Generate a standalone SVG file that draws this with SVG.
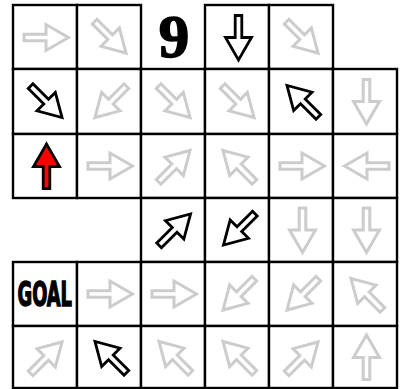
<svg xmlns="http://www.w3.org/2000/svg" xmlns:xlink="http://www.w3.org/1999/xlink" width="409" height="389" viewBox="0 0 409 389">
<style>
.cell{fill:#fff;stroke:#000;stroke-width:2.4}
.g{fill:#fff;stroke:#cccccc;stroke-width:3;stroke-linejoin:miter;stroke-miterlimit:10}
.k{fill:#fff;stroke:#000;stroke-width:2.8;stroke-linejoin:miter;stroke-miterlimit:10}
.r{fill:#ff0000;stroke:#000;stroke-width:2.8;stroke-linejoin:miter;stroke-miterlimit:10}
.nine{font-family:"Liberation Serif","Times New Roman",serif;font-weight:bold;font-size:61px;fill:#000;stroke:#000;stroke-width:1.6;text-anchor:middle}
.goal{font-family:"Liberation Sans Narrow","DejaVu Sans Condensed","Liberation Sans",sans-serif;font-weight:bold;font-size:34px;fill:#000;stroke:#000;stroke-width:1.4}
</style>
<defs>
<polygon id="arr" points="-22.5,-3.3 -0.5,-3.3 -0.5,-13 22,0 -0.5,13 -0.5,3.3 -22.5,3.3"/>
</defs>
<rect width="409" height="389" fill="#fff"/>
<!-- row 1 -->
<g id="r1c1"><rect class="cell" x="13" y="5" width="64" height="64"/><use xlink:href="#arr" class="g" transform="translate(46.5,37.5) rotate(0)"/></g>
<g id="r1c2"><rect class="cell" x="77" y="5" width="64" height="64"/><use xlink:href="#arr" class="g" transform="translate(110.5,37.5) rotate(45)"/></g>
<g id="r1c3"><text class="nine" x="174" y="56.5">9</text></g>
<g id="r1c4"><rect class="cell" x="205" y="5" width="64" height="64"/><use xlink:href="#arr" class="k" transform="translate(238.5,38) rotate(90)"/></g>
<g id="r1c5"><rect class="cell" x="269" y="5" width="64" height="64"/><use xlink:href="#arr" class="g" transform="translate(302.5,37.5) rotate(45)"/></g>
<!-- row 2 -->
<g id="r2c1"><rect class="cell" x="13" y="69" width="64" height="65"/><use xlink:href="#arr" class="k" transform="translate(46.5,102) rotate(45)"/></g>
<g id="r2c2"><rect class="cell" x="77" y="69" width="64" height="65"/><use xlink:href="#arr" class="g" transform="translate(110.5,102) rotate(135)"/></g>
<g id="r2c3"><rect class="cell" x="141" y="69" width="64" height="65"/><use xlink:href="#arr" class="g" transform="translate(174.5,102) rotate(45)"/></g>
<g id="r2c4"><rect class="cell" x="205" y="69" width="64" height="65"/><use xlink:href="#arr" class="g" transform="translate(238.5,102) rotate(45)"/></g>
<g id="r2c5"><rect class="cell" x="269" y="69" width="64" height="65"/><use xlink:href="#arr" class="k" transform="translate(302.5,101) rotate(-135)"/></g>
<g id="r2c6"><rect class="cell" x="333" y="69" width="64" height="65"/><use xlink:href="#arr" class="g" transform="translate(366.5,102) rotate(90)"/></g>
<!-- row 3 -->
<g id="r3c1"><rect class="cell" x="13" y="134" width="64" height="64"/><use xlink:href="#arr" class="r" transform="translate(46.5,166) rotate(-90)"/></g>
<g id="r3c2"><rect class="cell" x="77" y="134" width="64" height="64"/><use xlink:href="#arr" class="g" transform="translate(110.5,166) rotate(0)"/></g>
<g id="r3c3"><rect class="cell" x="141" y="134" width="64" height="64"/><use xlink:href="#arr" class="g" transform="translate(174.5,166) rotate(-45)"/></g>
<g id="r3c4"><rect class="cell" x="205" y="134" width="64" height="64"/><use xlink:href="#arr" class="g" transform="translate(238.5,166) rotate(-135)"/></g>
<g id="r3c5"><rect class="cell" x="269" y="134" width="64" height="64"/><use xlink:href="#arr" class="g" transform="translate(302.5,166) rotate(0)"/></g>
<g id="r3c6"><rect class="cell" x="333" y="134" width="64" height="64"/><use xlink:href="#arr" class="g" transform="translate(366.5,166) rotate(180)"/></g>
<!-- row 4 -->
<g id="r4c3"><rect class="cell" x="141" y="198" width="64" height="64"/><use xlink:href="#arr" class="k" transform="translate(175,229.5) rotate(-45)"/></g>
<g id="r4c4"><rect class="cell" x="205" y="198" width="64" height="64"/><use xlink:href="#arr" class="k" transform="translate(239,229.5) rotate(135)"/></g>
<g id="r4c5"><rect class="cell" x="269" y="198" width="64" height="64"/><use xlink:href="#arr" class="g" transform="translate(302.5,230.5) rotate(90)"/></g>
<g id="r4c6"><rect class="cell" x="333" y="198" width="64" height="64"/><use xlink:href="#arr" class="g" transform="translate(366.5,230.5) rotate(90)"/></g>
<!-- row 5 -->
<g id="r5c1"><rect class="cell" x="13" y="262" width="64" height="64"/><text class="goal" x="17.5" y="306" textLength="54.5" lengthAdjust="spacingAndGlyphs">GOAL</text></g>
<g id="r5c2"><rect class="cell" x="77" y="262" width="64" height="64"/><use xlink:href="#arr" class="g" transform="translate(110.5,294) rotate(0)"/></g>
<g id="r5c3"><rect class="cell" x="141" y="262" width="64" height="64"/><use xlink:href="#arr" class="g" transform="translate(174.5,294) rotate(0)"/></g>
<g id="r5c4"><rect class="cell" x="205" y="262" width="64" height="64"/><use xlink:href="#arr" class="g" transform="translate(238.5,294.5) rotate(135)"/></g>
<g id="r5c5"><rect class="cell" x="269" y="262" width="64" height="64"/><use xlink:href="#arr" class="g" transform="translate(302.5,294.5) rotate(135)"/></g>
<g id="r5c6"><rect class="cell" x="333" y="262" width="64" height="64"/><use xlink:href="#arr" class="g" transform="translate(366.5,294) rotate(-135)"/></g>
<!-- row 6 -->
<g id="r6c1"><rect class="cell" x="13" y="326" width="64" height="62"/><use xlink:href="#arr" class="g" transform="translate(46.5,357.5) rotate(-45)"/></g>
<g id="r6c2"><rect class="cell" x="77" y="326" width="64" height="62"/><use xlink:href="#arr" class="k" transform="translate(110.5,357) rotate(-135)"/></g>
<g id="r6c3"><rect class="cell" x="141" y="326" width="64" height="62"/><use xlink:href="#arr" class="g" transform="translate(174.5,357) rotate(-135)"/></g>
<g id="r6c4"><rect class="cell" x="205" y="326" width="64" height="62"/><use xlink:href="#arr" class="g" transform="translate(238.5,357) rotate(-135)"/></g>
<g id="r6c5"><rect class="cell" x="269" y="326" width="64" height="62"/><use xlink:href="#arr" class="g" transform="translate(302.5,357.5) rotate(-45)"/></g>
<g id="r6c6"><rect class="cell" x="333" y="326" width="64" height="62"/><use xlink:href="#arr" class="g" transform="translate(366.5,357) rotate(-90)"/></g>
<g id="connectors"/>
</svg>
